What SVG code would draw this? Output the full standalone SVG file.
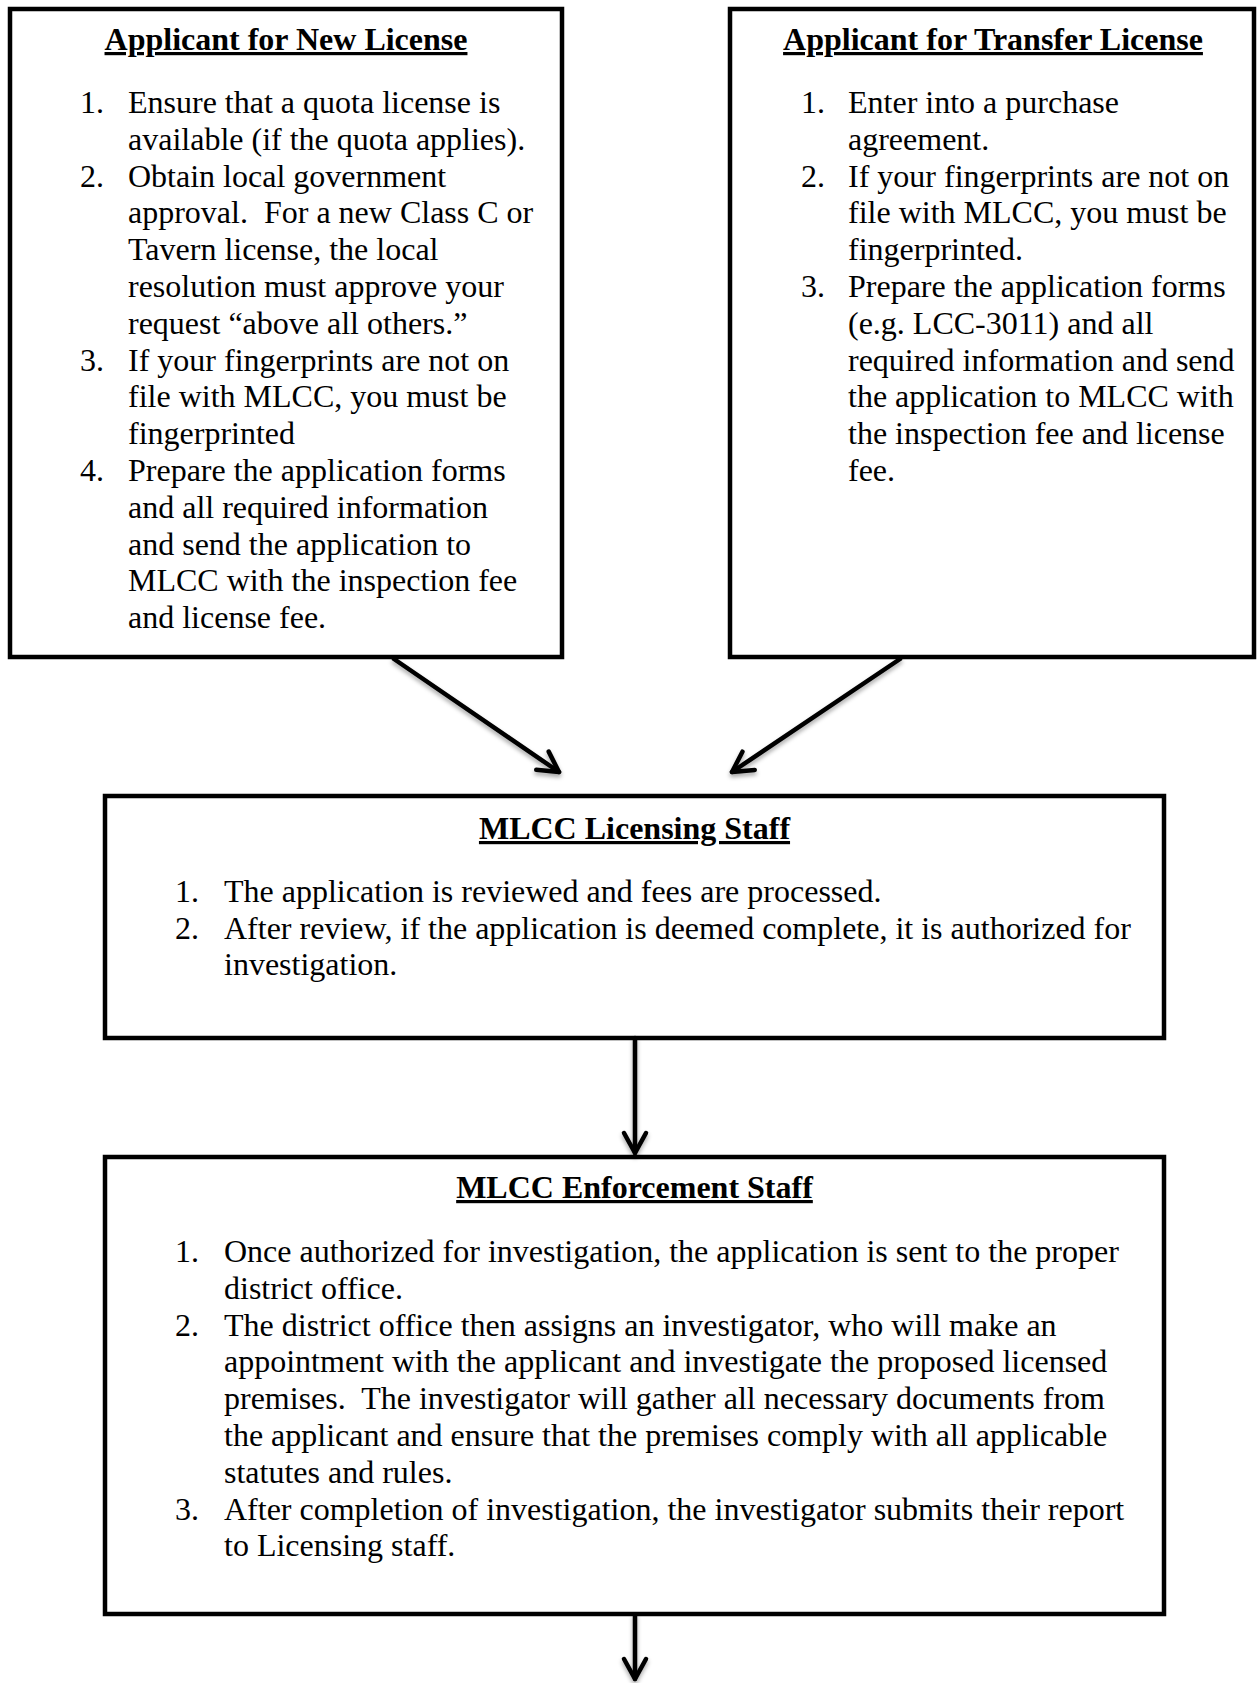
<svg xmlns="http://www.w3.org/2000/svg" width="1257" height="1683" viewBox="0 0 1257 1683">
<style>
text { font-family: "Liberation Serif", "Times New Roman", serif; font-size: 32px; fill: #000; white-space: pre; }
.t { font-weight: bold; text-anchor: middle; text-decoration: underline; }
.box { fill: #fff; stroke: #000; stroke-width: 4.5; }
.conn { stroke: #000; stroke-width: 4.5; stroke-linecap: round; fill: none; marker-end: url(#arr); filter: url(#sh); }
</style>
<defs>
<marker id="arr" markerUnits="userSpaceOnUse" viewBox="-26 -16 30 32" refX="0" refY="0" markerWidth="30" markerHeight="32" orient="auto" overflow="visible">
<path d="M-20,-11 L0,0 L-20,11" fill="none" stroke="#000" stroke-width="4.5" stroke-linecap="round" stroke-linejoin="round"/>
</marker>
<filter id="sh" filterUnits="userSpaceOnUse" x="0" y="0" width="1257" height="1683">
<feDropShadow dx="0" dy="3" stdDeviation="2" flood-color="#000" flood-opacity="0.35"/>
</filter>
</defs>
<rect width="1257" height="1683" fill="#fff"/>
<g id="new-license">
<rect class="box" x="10" y="9" width="552" height="648"/>
<text class="t" x="286" y="50">Applicant for New License</text>
<text x="80" y="113">1.</text><text x="128" y="113">Ensure that a quota license is</text>
<text x="128" y="149.8">available (if the quota applies).</text>
<text x="80" y="186.6">2.</text><text x="128" y="186.6">Obtain local government</text>
<text x="128" y="223.4">approval.  For a new Class C or</text>
<text x="128" y="260.2">Tavern license, the local</text>
<text x="128" y="297">resolution must approve your</text>
<text x="128" y="333.8">request “above all others.”</text>
<text x="80" y="370.6">3.</text><text x="128" y="370.6">If your fingerprints are not on</text>
<text x="128" y="407.4">file with MLCC, you must be</text>
<text x="128" y="444.2">fingerprinted</text>
<text x="80" y="481">4.</text><text x="128" y="481">Prepare the application forms</text>
<text x="128" y="517.8">and all required information</text>
<text x="128" y="554.6">and send the application to</text>
<text x="128" y="591.4">MLCC with the inspection fee</text>
<text x="128" y="628.2">and license fee.</text>
</g>
<g id="transfer-license">
<rect class="box" x="730" y="9" width="524" height="648"/>
<text class="t" x="993" y="50">Applicant for Transfer License</text>
<text x="801" y="113">1.</text><text x="848" y="113">Enter into a purchase</text>
<text x="848" y="149.8">agreement.</text>
<text x="801" y="186.6">2.</text><text x="848" y="186.6">If your fingerprints are not on</text>
<text x="848" y="223.4">file with MLCC, you must be</text>
<text x="848" y="260.2">fingerprinted.</text>
<text x="801" y="297">3.</text><text x="848" y="297">Prepare the application forms</text>
<text x="848" y="333.8">(e.g. LCC-3011) and all</text>
<text x="848" y="370.6">required information and send</text>
<text x="848" y="407.4">the application to MLCC with</text>
<text x="848" y="444.2">the inspection fee and license</text>
<text x="848" y="481">fee.</text>
</g>
<g id="licensing-staff">
<rect class="box" x="105" y="796" width="1059" height="242"/>
<text class="t" x="634.5" y="839">MLCC Licensing Staff</text>
<text x="175" y="902">1.</text><text x="224" y="902">The application is reviewed and fees are processed.</text>
<text x="175" y="938.6">2.</text><text x="224" y="938.6">After review, if the application is deemed complete, it is authorized for</text>
<text x="224" y="975.2">investigation.</text>
</g>
<g id="enforcement-staff">
<rect class="box" x="105" y="1157" width="1059" height="457"/>
<text class="t" x="634.5" y="1198">MLCC Enforcement Staff</text>
<text x="175" y="1262">1.</text><text x="224" y="1262">Once authorized for investigation, the application is sent to the proper</text>
<text x="224" y="1298.8">district office.</text>
<text x="175" y="1335.6">2.</text><text x="224" y="1335.6">The district office then assigns an investigator, who will make an</text>
<text x="224" y="1372.4">appointment with the applicant and investigate the proposed licensed</text>
<text x="224" y="1409.2">premises.  The investigator will gather all necessary documents from</text>
<text x="224" y="1446">the applicant and ensure that the premises comply with all applicable</text>
<text x="224" y="1482.8">statutes and rules.</text>
<text x="175" y="1519.6">3.</text><text x="224" y="1519.6">After completion of investigation, the investigator submits their report</text>
<text x="224" y="1556.4">to Licensing staff.</text>
</g>
<g id="connectors">
<line class="conn" x1="394" y1="659" x2="559" y2="772"/>
<line class="conn" x1="900" y1="659" x2="732" y2="772"/>
<line class="conn" x1="635" y1="1038" x2="635" y2="1153"/>
<line class="conn" x1="635" y1="1615" x2="635" y2="1679"/>
</g>
</svg>
